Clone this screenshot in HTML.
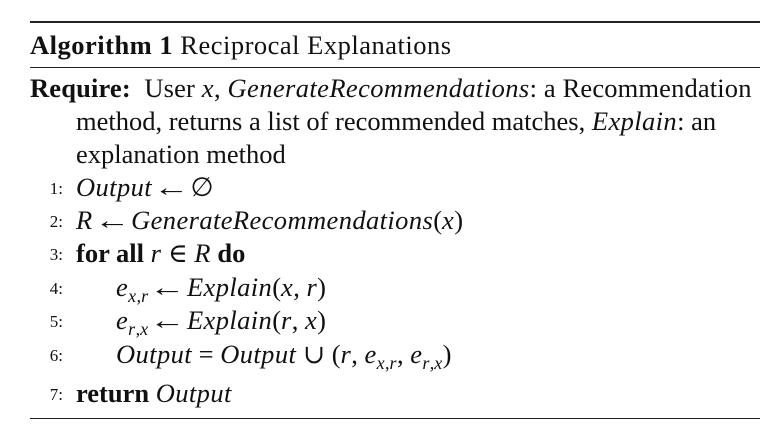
<!DOCTYPE html>
<html>
<head>
<meta charset="utf-8">
<style>
  html,body{margin:0;padding:0;background:#fff;}
  #box{position:relative;width:780px;height:443px;overflow:hidden;font-family:"Liberation Serif","DejaVu Serif",serif;color:#111;}
  .rule{position:absolute;left:30px;width:730px;background:#222;}
  .ln{position:absolute;white-space:nowrap;font-size:26.5px;line-height:30px;}
  .num{position:absolute;font-size:17px;line-height:30px;width:32px;text-align:right;left:31px;}
  i{font-style:italic;letter-spacing:0.4px;}
  b{font-weight:bold;}
  sub{font-size:18px;vertical-align:-6px;line-height:0;}
  .ar{display:inline-block;transform:scaleX(1.35);margin:0 6px;}
</style>
</head>
<body>
<div id="box">
  <div class="rule" style="top:21px;height:2px;"></div>
  <div class="ln" style="left:30px;top:30px;letter-spacing:0.5px;"><b>Algorithm 1</b> Reciprocal Explanations</div>
  <div class="rule" style="top:67px;height:1px;"></div>

  <div class="ln" style="left:30px;top:73px;letter-spacing:0.15px;"><b>Require:</b>&nbsp; User <i>x</i>, <i>GenerateRecommendations</i>: a Recommendation</div>
  <div class="ln" style="left:76px;top:106px;">method, returns a list of recommended matches, <i>Explain</i>: an</div>
  <div class="ln" style="left:76px;top:139px;">explanation method</div>

  <div class="num" style="top:174px;">1:</div>
  <div class="ln" style="left:76px;top:172px;"><i>Output</i><span class="ar">←</span>∅</div>

  <div class="num" style="top:207px;">2:</div>
  <div class="ln" style="left:76px;top:205px;"><i>R</i><span class="ar">←</span><i>GenerateRecommendations</i>(<i>x</i>)</div>

  <div class="num" style="top:240px;">3:</div>
  <div class="ln" style="left:76px;top:238px;"><b>for all</b> <i>r</i> ∈ <i>R</i> <b>do</b></div>

  <div class="num" style="top:274px;">4:</div>
  <div class="ln" style="left:116px;top:272px;"><i>e</i><sub><i>x</i>,<i>r</i></sub><span class="ar">←</span><i>Explain</i>(<i>x</i>, <i>r</i>)</div>

  <div class="num" style="top:307px;">5:</div>
  <div class="ln" style="left:116px;top:305px;"><i>e</i><sub><i>r</i>,<i>x</i></sub><span class="ar">←</span><i>Explain</i>(<i>r</i>, <i>x</i>)</div>

  <div class="num" style="top:341px;">6:</div>
  <div class="ln" style="left:116px;top:339px;"><i>Output</i> = <i>Output</i> ∪ (<i>r</i>, <i>e</i><sub><i>x</i>,<i>r</i></sub>, <i>e</i><sub><i>r</i>,<i>x</i></sub>)</div>

  <div class="num" style="top:380px;">7:</div>
  <div class="ln" style="left:76px;top:378px;"><b>return</b> <i>Output</i></div>

  <div class="rule" style="top:418px;height:1px;"></div>
</div>
</body>
</html>
